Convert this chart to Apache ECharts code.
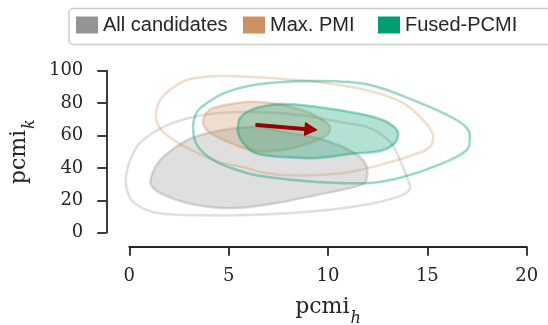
<!DOCTYPE html>
<html><head><meta charset="utf-8">
<script src="https://cdn.jsdelivr.net/npm/echarts@6/dist/echarts.min.js"></script>
<style>html,body{margin:0;padding:0;background:#fff}#c{width:548px;height:325px}</style>
</head><body><div id="c"></div>
<script>
// ---- data ----
const xTicks = [0, 5, 10, 15, 20];
const yTicks = [0, 20, 40, 60, 80, 100];
const seriesNames = ['All candidates', 'Max. PMI', 'Fused-PCMI'];
const seriesColors = ['#949494', '#ca9161', '#029e73'];

// outer (low-density) contour lines and inner (high-density) filled contours, [pcmi_h, pcmi_k]
const allOuter = [[-0.17,34.4],[0.04,44.9],[0.54,55.4],[1.70,65.2],[3.21,71.4],[4.56,73.9],[6.23,74.5],[8.59,72.7],[10.60,68.3],[12.11,64.6],[13.12,56.0],[13.62,44.9],[14.03,32.5],[14.13,27.6],[13.77,23.3],[12.11,17.7],[9.44,13.4],[6.07,10.9],[2.90,10.9],[1.19,12.8],[0.19,19.0],[-0.12,26.4]];
const allInner = [[1.09,33.8],[1.29,40.0],[1.70,46.7],[2.90,57.2],[4.21,62.2],[5.42,64.6],[6.58,65.2],[7.74,62.2],[9.45,58.5],[10.76,52.9],[11.61,46.7],[11.96,40.6],[11.96,34.4],[11.86,30.7],[11.11,27.6],[9.45,23.3],[7.74,19.0],[6.07,15.9],[4.56,15.3],[2.90,18.3],[1.55,24.5],[1.09,29.4]];
const pmiOuter = [[1.34,73.9],[1.55,81.9],[2.05,88.1],[2.90,94.3],[4.56,96.7],[6.23,96.1],[9.45,93.0],[12.11,87.5],[13.77,80.1],[14.78,69.6],[15.28,60.3],[15.13,52.9],[14.28,48.0],[12.97,43.0],[11.11,37.5],[9.45,35.6],[7.74,35.6],[6.58,37.5],[5.92,39.9],[4.56,43.6],[2.90,52.3],[1.70,62.2],[1.39,68.3]];
const pmiInner = [[3.71,69.6],[3.91,74.5],[4.21,77.0],[5.42,80.1],[6.58,80.7],[7.74,78.8],[9.09,73.9],[9.95,67.7],[10.10,64.6],[9.95,60.3],[9.09,55.4],[7.74,51.1],[6.33,50.4],[5.07,55.4],[4.06,61.5],[3.76,65.9]];
const fusedOuter = [[3.21,65.2],[3.41,74.5],[3.91,80.1],[4.92,86.9],[6.58,91.8],[9.45,93.6],[12.11,91.2],[14.63,80.1],[16.29,70.8],[16.99,64.6],[17.14,59.1],[16.99,51.1],[15.79,43.0],[13.77,34.4],[12.11,30.7],[9.45,31.3],[6.58,35.0],[5.42,38.7],[4.21,44.9],[3.41,54.1]];
const fusedInner = [[5.47,66.5],[5.57,70.8],[5.92,74.5],[6.58,77.6],[7.74,79.4],[9.45,77.6],[11.11,74.5],[12.11,72.0],[12.97,68.3],[13.47,63.4],[13.52,59.1],[13.27,54.1],[12.62,50.4],[11.11,48.6],[9.45,46.1],[7.74,46.7],[6.33,49.2],[5.72,55.4],[5.47,61.5]];

// shift arrow (mean of Max. PMI -> mean of Fused-PCMI)
const arrowStart = [6.43, 66.5];
const arrowEnd = [9.44, 63.4];

// ---- rendering ----
function rgba(hex, a) {
  const n = parseInt(hex.slice(1), 16);
  return 'rgba(' + ((n >> 16) & 255) + ',' + ((n >> 8) & 255) + ',' + (n & 255) + ',' + a + ')';
}
function contour(name, pts, color, filled, lineAlpha, z) {
  return {
    type: 'custom', name: name, data: pts, encode: { x: 0, y: 1 }, z: z, silent: true,
    itemStyle: { color: color },
    renderItem: function (params, api) {
      if (params.dataIndex !== 0) return null;
      const P = pts.map(function (p) { return api.coord(p); });
      return {
        type: 'polygon',
        shape: { points: P, smooth: 0.35 },
        style: { fill: filled ? rgba(color, 0.3) : 'none', stroke: rgba(color, lineAlpha), lineWidth: 2.5 }
      };
    }
  };
}
const arrowSeries = {
  type: 'custom', name: 'shift', data: [arrowStart, arrowEnd], encode: { x: 0, y: 1 }, z: 20, silent: true,
  renderItem: function (params, api) {
    if (params.dataIndex !== 0) return null;
    const a = api.coord(arrowStart), b = api.coord(arrowEnd);
    const dx = b[0] - a[0], dy = b[1] - a[1], L = Math.hypot(dx, dy);
    const ux = dx / L, uy = dy / L, hl = 12, hw = 6.5;
    const bx = b[0] - ux * hl, by = b[1] - uy * hl;
    return {
      type: 'group', children: [
        { type: 'line', shape: { x1: a[0], y1: a[1], x2: bx + ux * 2, y2: by + uy * 2 }, style: { stroke: '#990000', lineWidth: 4, lineCap: 'round' } },
        { type: 'polygon', shape: { points: [[b[0], b[1]], [bx - uy * hw, by + ux * hw], [bx + uy * hw, by - ux * hw]] }, style: { fill: '#990000', stroke: '#990000', lineWidth: 1, lineJoin: 'round' } }
      ]
    };
  }
};

const axisColor = '#262626';
const serif = 'DejaVu Serif';
const legendLefts = [76, 243, 378];
const legends = seriesNames.map(function (n, i) {
  return {
    left: legendLefts[i], top: 14, padding: 0, itemWidth: 22, itemHeight: 17, itemGap: 5,
    icon: 'rect', selectedMode: false,
    textStyle: { fontFamily: 'Liberation Sans', fontSize: 20, color: '#262626', lineHeight: 22 },
    data: [{ name: n, itemStyle: { color: seriesColors[i], borderWidth: 0 } }]
  };
});
const nameRich = {
  a: { fontFamily: serif, fontSize: 22, color: axisColor, lineHeight: 22, verticalAlign: 'top' },
  b: { fontFamily: serif, fontSize: 16, fontStyle: 'italic', color: axisColor, lineHeight: 12, padding: [14, 0, 0, 1], verticalAlign: 'top' }
};

const chart = echarts.init(document.getElementById('c'), null, { renderer: 'canvas' });
chart.setOption({
  animation: false,
  backgroundColor: '#fff',
  graphic: [{ type: 'rect', shape: { x: 69, y: 8.5, width: 520, height: 36, r: 4 }, style: { fill: '#fff', stroke: '#cccccc', lineWidth: 1.5 }, z: -1 }],
  legend: legends,
  grid: { left: 129.3, right: 21.3, top: 70.7, bottom: 92.3, containLabel: false, outerBoundsMode: 'none' },
  xAxis: {
    type: 'value', min: xTicks[0], max: xTicks[xTicks.length - 1], interval: 5, offset: 14,
    axisLine: { show: true, onZero: false, lineStyle: { color: axisColor, width: 1.8 } },
    axisTick: { show: true, length: 9, lineStyle: { color: axisColor, width: 1.8 } },
    splitLine: { show: false },
    axisLabel: { fontFamily: serif, fontSize: 18, color: axisColor, margin: 21 },
    name: '{a|pcmi}{b|h}', nameLocation: 'middle', nameGap: 50,
    nameTextStyle: { rich: nameRich }
  },
  yAxis: {
    type: 'value', min: yTicks[0], max: yTicks[yTicks.length - 1], interval: 20, offset: 23,
    axisLine: { show: true, onZero: false, lineStyle: { color: axisColor, width: 1.8 } },
    axisTick: { show: true, length: 9, lineStyle: { color: axisColor, width: 1.8 } },
    splitLine: { show: false },
    axisLabel: { fontFamily: serif, fontSize: 18, color: axisColor, margin: 23 },
    name: '{a|pcmi}{b|k}', nameLocation: 'middle', nameGap: 60,
    nameTextStyle: { rich: nameRich }
  },
  series: [
    contour(seriesNames[0], allOuter, seriesColors[0], false, 0.3, 2),
    contour(seriesNames[0], allInner, seriesColors[0], true, 0.35, 3),
    contour(seriesNames[1], pmiOuter, seriesColors[1], false, 0.3, 4),
    contour(seriesNames[1], pmiInner, seriesColors[1], true, 0.35, 5),
    contour(seriesNames[2], fusedOuter, seriesColors[2], false, 0.4, 6),
    contour(seriesNames[2], fusedInner, seriesColors[2], true, 0.4, 7),
    arrowSeries
  ]
});
</script></body></html>
